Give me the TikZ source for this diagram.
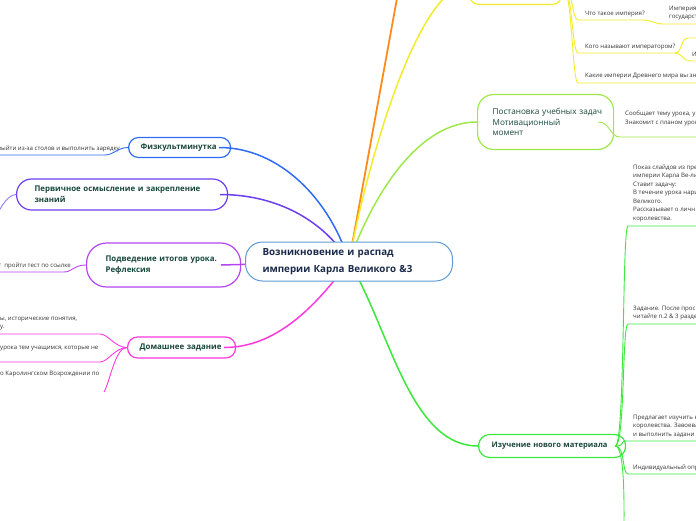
\documentclass[tikz,border=0pt]{standalone}
\usepackage{fontspec}
\setmainfont{Open Sans}
\usetikzlibrary{backgrounds}

\definecolor{rootcol}{HTML}{5B9BD5}
\definecolor{roottext}{HTML}{1B2A4A}
\definecolor{subtext}{HTML}{17463A}
\definecolor{leaftext}{HTML}{333333}
\definecolor{fizcol}{HTML}{2F6CF6}
\definecolor{prvcol}{HTML}{6B3EF0}
\definecolor{podcol}{HTML}{B445F2}
\definecolor{domcol}{HTML}{FF38E0}
\definecolor{orgcol}{HTML}{FF8C1A}
\definecolor{yelcol}{HTML}{F2EC2A}
\definecolor{postcol}{HTML}{9EE84A}
\definecolor{izucol}{HTML}{3BE83B}

\begin{document}
\begin{tikzpicture}[x=1pt,y=-1pt,
	bubble/.style={draw=#1, line width=1.2pt, anchor=west, align=left, text=subtext, font=\fontsize{7.9}{11}\selectfont\bfseries},
	leaf/.style={inner sep=0pt, align=left, text=leaftext, font=\fontsize{6.1}{8.5}\selectfont},
	branch/.style={draw=#1, line width=1.5pt},
	twig/.style={draw=#1, line width=0.9pt}]
	%\draw[help lines,step=50] (0,0) grid (696,520);
	\useasboundingbox (0,0) rectangle (696,520);

	% centre
	\node[draw=rootcol, line width=1pt, fill=white, rounded corners=17pt, anchor=west, minimum width=207pt, minimum height=39pt, inner xsep=17pt, text width=173pt, align=left, text=roottext, font=\fontsize{9.8}{16.5}\selectfont\bfseries] (root) at (245,261.5) {\mbox{Возникновение и распад}\\\mbox{империи Карла Великого \&3}};

	% gauche
	\node[bubble=fizcol, rounded corners=10pt, minimum width=102pt, minimum height=20pt, inner xsep=12pt, text width=78pt] (fiz) at (128,147.5) {\mbox{Физкультминутка}};
	\node[bubble=prvcol, rounded corners=15pt, minimum width=211pt, minimum height=31pt, inner xsep=18pt, text width=175pt] (prv) at (16,194.5) {\mbox{Первичное осмысление и закрепление}\\знаний};
	\node[bubble=podcol, rounded corners=20pt, minimum width=154pt, minimum height=44pt, inner xsep=19pt, text width=116pt] (pod) at (86,265) {\mbox{Подведение итогов урока.}\\Рефлексия};
	\node[bubble=domcol, rounded corners=10pt, minimum width=108pt, minimum height=21pt, inner xsep=12pt, text width=84pt] (dom) at (127,347.5) {\mbox{Домашнее задание}};

	% droite
	\node[draw=yelcol, line width=1.2pt, rounded corners=9pt, anchor=south west, minimum width=92pt, minimum height=40pt] (yel) at (469,5) {};
	\node[bubble=postcol, rounded corners=16pt, minimum width=136pt, minimum height=55pt, inner xsep=15pt, text width=106pt, font=\fontsize{8.2}{10.5}\selectfont] (post) at (477,122) {\mbox{Постановка учебных задач}\\Мотивационный\\момент};
	\node[bubble=izucol, rounded corners=11pt, minimum width=147pt, minimum height=23pt, inner xsep=13pt, text width=121pt, font=\fontsize{7.6}{10}\selectfont\bfseries] (izu) at (478,446) {\mbox{Изучение нового материала}};
	\coordinate (orng) at (404,-40);

	% liens du centre
	\begin{scope}[on background layer]
		\draw[branch=orgcol, line width=1.8pt] (root.center) -- (orng);
		\draw[branch=yelcol] (root.center) .. controls (370,150) and (420,-15) .. (yel.west);
		\draw[branch=postcol] (root.center) .. controls (375,190) and (420,122) .. (post.west);
		\draw[branch=izucol] (root.center) .. controls (390,330) and (410,446) .. (izu.west);
		\draw[branch=fizcol] (root.center) .. controls (330,200) and (280,147.5) .. ([xshift=-12pt]fiz.east);
		\draw[branch=prvcol] (root.center) .. controls (320,215) and (270,194.5) .. ([xshift=-8pt]prv.east);
		\draw[branch=podcol] (root.center) -- ([xshift=-20pt]pod.east);
		\draw[branch=domcol] (root.center) .. controls (320,300) and (280,347.5) .. ([xshift=-12pt]dom.east);
	\end{scope}

	% feuilles jaunes (ancre base = derniere ligne)
	\node[leaf, anchor=base west] (imp) at (585,15.5) {Что такое империя?};
	\node[leaf, anchor=base west] (impdef) at (669,18.5) {Империя\\государст};
	\node[leaf, anchor=base west] (kogo) at (585,48.5) {Кого называют императором?};
	\node[leaf, anchor=base west] (ii) at (692,56) {И};
	\node[leaf, anchor=base west] (kakie) at (585,77.5) {Какие империи Древнего мира вы зна};
	\coordinate (imp-u) at (578,20);
	\coordinate (impdef-u) at (663,24);
	\coordinate (kogo-u) at (578,53);
	\coordinate (haut-u) at (688,38);
	\coordinate (ii-u) at (690,61);
	\coordinate (kakie-u) at (578,83);
	\draw[twig=yelcol] (yel.east) .. controls +(10,0) and +(-6,0) .. (imp-u) -- ++(64,0) .. controls +(10,0) and +(-8,0) .. (impdef-u) -- ++(40,0);
	\draw[twig=yelcol] (yel.east) .. controls +(10,0) and +(-6,0) .. (kogo-u) -- ++(97,0) coordinate (kogo-e);
	\draw[twig=yelcol] (kogo-e) .. controls +(7,0) and +(-7,0) .. (haut-u) -- ++(12,0);
	\draw[twig=yelcol] (kogo-e) .. controls +(7,0) and +(-7,0) .. (ii-u) -- ++(10,0);
	\draw[twig=yelcol] (yel.east) .. controls +(10,0) and +(-6,0) .. (kakie-u) -- ++(122,0);

	% feuille de la motivation
	\node[leaf, anchor=base west] (soob) at (625,124) {Сообщает тему урока, у\\Знакомит с планом урок};
	\coordinate (soob-u) at (620,137);
	\draw[twig=postcol] ([xshift=-16pt]post.east) .. controls +(12,0) and +(-10,0) .. (soob-u) -- ++(80,0);

	% feuilles du nouveau materiel
	\node[leaf, anchor=base west] (pokaz) at (633,220) {Показ слайдов из пре\\империи Карла Ве-ли\\Ставит задачу:\\В течение урока нари\\Великого.\\Рассказывает о личн\\королевства.};
	\node[leaf, anchor=base west] (zad) at (633,318.5) {Задание. После прос\\читайте п.2 \& 3 разде};
	\node[leaf, anchor=base west] (pred) at (633,436) {Предлагает изучить к\\королевства. Завоева\\и выполнить задани};
	\node[leaf, anchor=base west] (ind) at (633,469.5) {Индивидуальный опр};
	\coordinate (pokaz-u) at (628,226);
	\coordinate (zad-u) at (628,324);
	\coordinate (pred-u) at (626,441);
	\coordinate (ind-u) at (628,474);
	\coordinate (bas) at (624,530);
	\foreach \f in {pokaz-u,zad-u,pred-u,ind-u}
		\draw[twig=izucol] ([xshift=-11pt]izu.east) .. controls +(10,0) and +(-6,0) .. (\f) -- ++(75,0);
	\draw[twig=izucol] ([xshift=-11pt]izu.east) .. controls +(10,0) and +(0,-20) .. (bas);

	% feuilles a gauche
	\node[leaf, anchor=base east] (zar) at (120,150) {выйти из-за столов и выполнить зарядку};
	\coordinate (zar-u) at (105,155);
	\draw[twig=fizcol] (fiz.west) .. controls +(-10,0) and +(8,0) .. (zar-u) -- ++(-110,0);
	\coordinate (prv-kid) at (-6,222);
	\draw[twig=prvcol!70] (prv.west) .. controls +(-10,0) and +(3,-8) .. (prv-kid);
	\node[leaf, anchor=base east] (test) at (71,267) {т\ \ пройти тест по ссылке};
	\coordinate (test-u) at (64,272);
	\draw[twig=podcol] (pod.west) .. controls +(-12,0) and +(8,0) .. (test-u) -- ++(-70,0);
	\node[leaf, anchor=base west] (ist) at (0,328.5) {ы, исторические понятия,\\у.};
	\node[leaf, anchor=base west] (uch) at (0,349) {урока тем учащимся, которые не};
	\node[leaf, anchor=base west] (karo) at (0,375.5) {о Каролингском Возрождении по};
	\coordinate (ist-u) at (100,334);
	\coordinate (uch-u) at (100,362);
	\coordinate (karo-u) at (104,392);
	\draw[twig=domcol] (dom.west) .. controls +(-12,0) and +(8,0) .. (ist-u) -- ++(-105,0);
	\draw[twig=domcol] (dom.west) .. controls +(-12,0) and +(8,0) .. (uch-u) -- ++(-105,0);
	\draw[twig=domcol] (dom.west) .. controls +(-12,0) and +(6,-10) .. (karo-u);
\end{tikzpicture}
\end{document}
